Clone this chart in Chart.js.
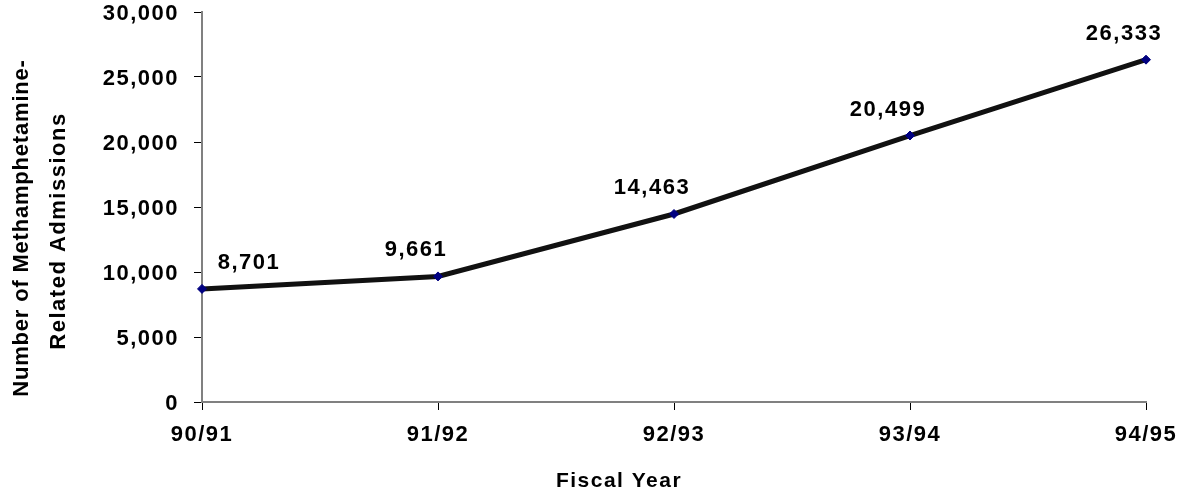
<!DOCTYPE html>
<html>
<head>
<meta charset="utf-8">
<script src="https://cdn.jsdelivr.net/npm/chart.js@4.4.0/dist/chart.umd.min.js"></script>
<style>
  html, body { margin: 0; padding: 0; background: #fff; }
  #wrap { width: 1180px; height: 492px; position: relative; }
</style>
</head>
<body>
<div id="wrap"><canvas id="admissionsChart"></canvas></div>
<script>
// Data
const years = ['90/91', '91/92', '92/93', '93/94', '94/95'];
const admissions = [8701, 9661, 14463, 20499, 26333];
const yTicks = [0, 5000, 10000, 15000, 20000, 25000, 30000];
const xTitle = 'Fiscal Year';
const yTitle = ['Number of Methamphetamine-', 'Related Admissions'];

const fontFamily = '"Liberation Sans", Arial, Helvetica, sans-serif';
const letterGap = '1.5px';

// canvas letter spacing (text in the original is loosely set)
const spacing = {
    id: 'spacing',
    beforeUpdate(chart) { chart.ctx.letterSpacing = letterGap; },
    beforeDraw(chart) { chart.ctx.letterSpacing = letterGap; }
};

// value labels above each point
const valueLabels = {
    id: 'valueLabels',
    afterDatasetsDraw(chart) {
        const ctx = chart.ctx;
        const meta = chart.getDatasetMeta(0);
        ctx.save();
        ctx.letterSpacing = letterGap;
        ctx.font = 'bold 22px ' + fontFamily;
        ctx.fillStyle = '#000';
        ctx.textAlign = 'center';
        ctx.textBaseline = 'middle';
        meta.data.forEach(function (pt, i) {
            const x = Math.max(pt.x - 22, chart.chartArea.left + 47);
            ctx.fillText(admissions[i].toLocaleString('en-US'), x, pt.y - 26);
        });
        ctx.restore();
    }
};

// axis titles, placed like the original (not centred on the plot)
const axisTitles = {
    id: 'axisTitles',
    afterDraw(chart) {
        const ctx = chart.ctx;
        const area = chart.chartArea;
        ctx.save();
        ctx.letterSpacing = letterGap;
        ctx.fillStyle = '#000';
        ctx.textAlign = 'center';
        ctx.textBaseline = 'middle';
        ctx.font = 'bold 21px ' + fontFamily;
        ctx.fillText(xTitle, area.left + 417, chart.height - 11);

        ctx.font = 'bold 22px ' + fontFamily;
        ctx.translate(22, area.top + 206);
        ctx.rotate(-Math.PI / 2);
        ctx.letterSpacing = '0.8px';
        ctx.fillText(yTitle[0], -10, 0);
        ctx.letterSpacing = letterGap;
        ctx.fillText(yTitle[1], -13, 37);
        ctx.restore();
    }
};

const ctx = document.getElementById('admissionsChart');
new Chart(ctx, {
    type: 'line',
    data: {
        labels: years,
        datasets: [{
            data: admissions,
            borderColor: '#111111',
            borderWidth: 5,
            pointStyle: 'rectRot',
            pointRadius: 4.5,
            pointBackgroundColor: '#000080',
            pointBorderColor: '#000080',
            pointBorderWidth: 1,
            tension: 0
        }]
    },
    options: {
        responsive: true,
        maintainAspectRatio: false,
        animation: false,
        layout: {
            padding: 0
        },
        plugins: {
            legend: { display: false },
            tooltip: { enabled: false }
        },
        scales: {
            x: {
                offset: false,
                grid: {
                    drawOnChartArea: false,
                    drawTicks: true,
                    tickLength: 8,
                    color: '#000'
                },
                border: { color: '#808080', width: 2 },
                ticks: {
                    color: '#000',
                    padding: 12,
                    maxRotation: 0,
                    font: { family: fontFamily, size: 22, weight: 'bold' }
                },
                title: { display: false },
                afterFit: function (scale) {
                    scale.height = 90;
                    scale.paddingLeft = 0;
                    scale.paddingRight = 34;
                }
            },
            y: {
                min: 0,
                max: 30000,
                afterBuildTicks: function (scale) {
                    scale.ticks = yTicks.map(v => ({ value: v }));
                },
                grid: {
                    drawOnChartArea: false,
                    drawTicks: true,
                    tickLength: 8,
                    color: '#000'
                },
                border: { color: '#808080', width: 2 },
                ticks: {
                    color: '#000',
                    padding: 15,
                    labelOffset: 2,
                    font: { family: fontFamily, size: 22, weight: 'bold' },
                    callback: function (value) { return value.toLocaleString('en-US'); }
                },
                title: { display: false },
                afterFit: function (scale) {
                    scale.width = 202;
                    scale.paddingTop = 12;
                    scale.paddingBottom = 0;
                }
            }
        }
    },
    plugins: [spacing, valueLabels, axisTitles]
});
</script>
</body>
</html>
